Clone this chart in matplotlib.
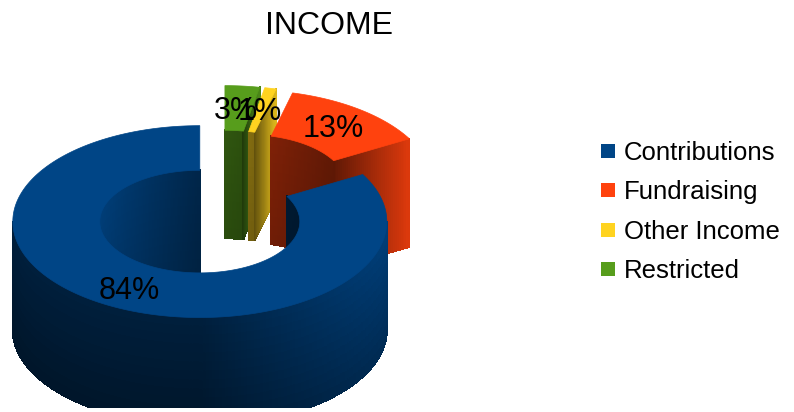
import numpy as np
import matplotlib
matplotlib.use('Agg')
import matplotlib.pyplot as plt
from matplotlib.collections import PolyCollection
from matplotlib.patches import Polygon, Rectangle

plt.rcParams['font.family'] = ['Liberation Sans', 'DejaVu Sans']

# data, legend order
categories = ['Contributions', 'Fundraising', 'Other Income', 'Restricted']
values = [84, 13, 1, 3]
labels = ['84%', '13%', '1%', '3%']
colors = ['#004586', '#ff420e', '#ffd320', '#579d1c']

# projection of the 3d ring, in pixels
CX, CY = 221, 203
R_OUT, R_IN = 187, 100
SQUASH = 0.513
DEPTH = 108
EXPLODE = 42
CLIP_Y = 408


def proj(t, rho, h, cx, cy):
    return cx + rho * np.sin(t), cy - rho * SQUASH * np.cos(t) + h


def shade(col, f):
    rgb = np.array(matplotlib.colors.to_rgb(col))
    return tuple(np.clip(rgb * f, 0, 1))


def add_quads(ax, polys, cols, clip):
    # no antialiasing here, it leaves stripes between the quads
    pc = PolyCollection(polys, facecolors=cols, edgecolors=cols, linewidths=0.8, antialiaseds=False)
    ax.add_collection(pc)
    pc.set_clip_path(clip)


def wall(ax, col, rho, t0, t1, cx, cy, light, clip):
    # side wall of the ring made of small shaded quads
    ts = np.linspace(t0, t1, max(2, int(np.degrees(t1 - t0)) + 2))
    hs = np.linspace(0, DEPTH, 13)
    polys, cols = [], []
    for a, b in zip(ts[:-1], ts[1:]):
        for h0, h1 in zip(hs[:-1], hs[1:]):
            polys.append([proj(a, rho, h0, cx, cy), proj(b, rho, h0, cx, cy),
                          proj(b, rho, h1, cx, cy), proj(a, rho, h1, cx, cy)])
            cols.append(shade(col, light((a + b) / 2, (h0 + h1) / 2 / DEPTH)))
    add_quads(ax, polys, cols, clip)


def cut_face(ax, col, t, cx, cy, clip):
    rs = np.linspace(R_IN, R_OUT, 40)
    polys, cols = [], []
    for a, b in zip(rs[:-1], rs[1:]):
        polys.append([proj(t, a, 0, cx, cy), proj(t, b, 0, cx, cy),
                      proj(t, b, DEPTH, cx, cy), proj(t, a, DEPTH, cx, cy)])
        cols.append(shade(col, 0.37 + 0.5 * (a - R_IN) / (R_OUT - R_IN)))
    add_quads(ax, polys, cols, clip)


def inner_light(t, v):
    s = np.sin(t)
    f = 0.55 - 0.2 * s if s > 0 else 0.55 - 0.35 * s
    return f * (1 - 0.12 * v)


def outer_light(t, v):
    return (0.45 + 0.45 * max(0, np.sin(t))) * (1 - 0.3 * v)


fig = plt.figure(figsize=(7.94, 4.12), dpi=100)
ax = fig.add_axes([0, 0, 1, 1])
ax.set_xlim(0, 794)
ax.set_ylim(412, 0)
ax.axis('off')
clip = Rectangle((0, 0), 794, CLIP_Y, transform=ax.transData)

# slices run clockwise from 12 o'clock, last legend entry first
total = sum(values)
start = 0.0
for i in [3, 2, 1, 0]:
    end = start + values[i] / total * 2 * np.pi
    mid = (start + end) / 2
    cx = CX + EXPLODE * np.sin(mid)
    cy = CY - EXPLODE * SQUASH * np.cos(mid)
    col = colors[i]

    # inner wall shows on the far half of the hole
    for lo, hi in [(0, np.pi / 2), (1.5 * np.pi, 2 * np.pi)]:
        a, b = max(start, lo), min(end, hi)
        if b > a:
            wall(ax, col, R_IN, a, b, cx, cy, inner_light, clip)
    if np.sin(end) > 0.01:
        cut_face(ax, col, end, cx, cy, clip)
    # outer wall shows on the near half
    a, b = max(start, np.pi / 2), min(end, 1.5 * np.pi)
    if b > a:
        wall(ax, col, R_OUT, a, b, cx, cy, outer_light, clip)

    ts = np.linspace(start, end, max(3, int(np.degrees(end - start)) * 2))
    top = [proj(t, R_OUT, 0, cx, cy) for t in ts] + [proj(t, R_IN, 0, cx, cy) for t in ts[::-1]]
    ax.add_patch(Polygon(top, closed=True, facecolor=col, edgecolor=col, lw=0.5))
    start = end

ax.text(329, 26, 'INCOME', fontsize=23, ha='center', va='center', color='black')

# percent labels
ax.text(129, 291, labels[0], fontsize=22, ha='center', va='center')
ax.text(333, 129, labels[1], fontsize=22, ha='center', va='center')
ax.text(236, 111, labels[3], fontsize=22, ha='center', va='center')
ax.text(260, 112, labels[2], fontsize=22, ha='center', va='center')

# legend
for i, name in enumerate(categories):
    y = 151 + i * 39.3
    ax.add_patch(Rectangle((601, y - 7), 14, 14, facecolor=colors[i], edgecolor='none'))
    ax.text(624, y + 2, name, fontsize=18.5, ha='left', va='center', color='black')

fig.savefig('out.png', dpi=100, facecolor='white')
